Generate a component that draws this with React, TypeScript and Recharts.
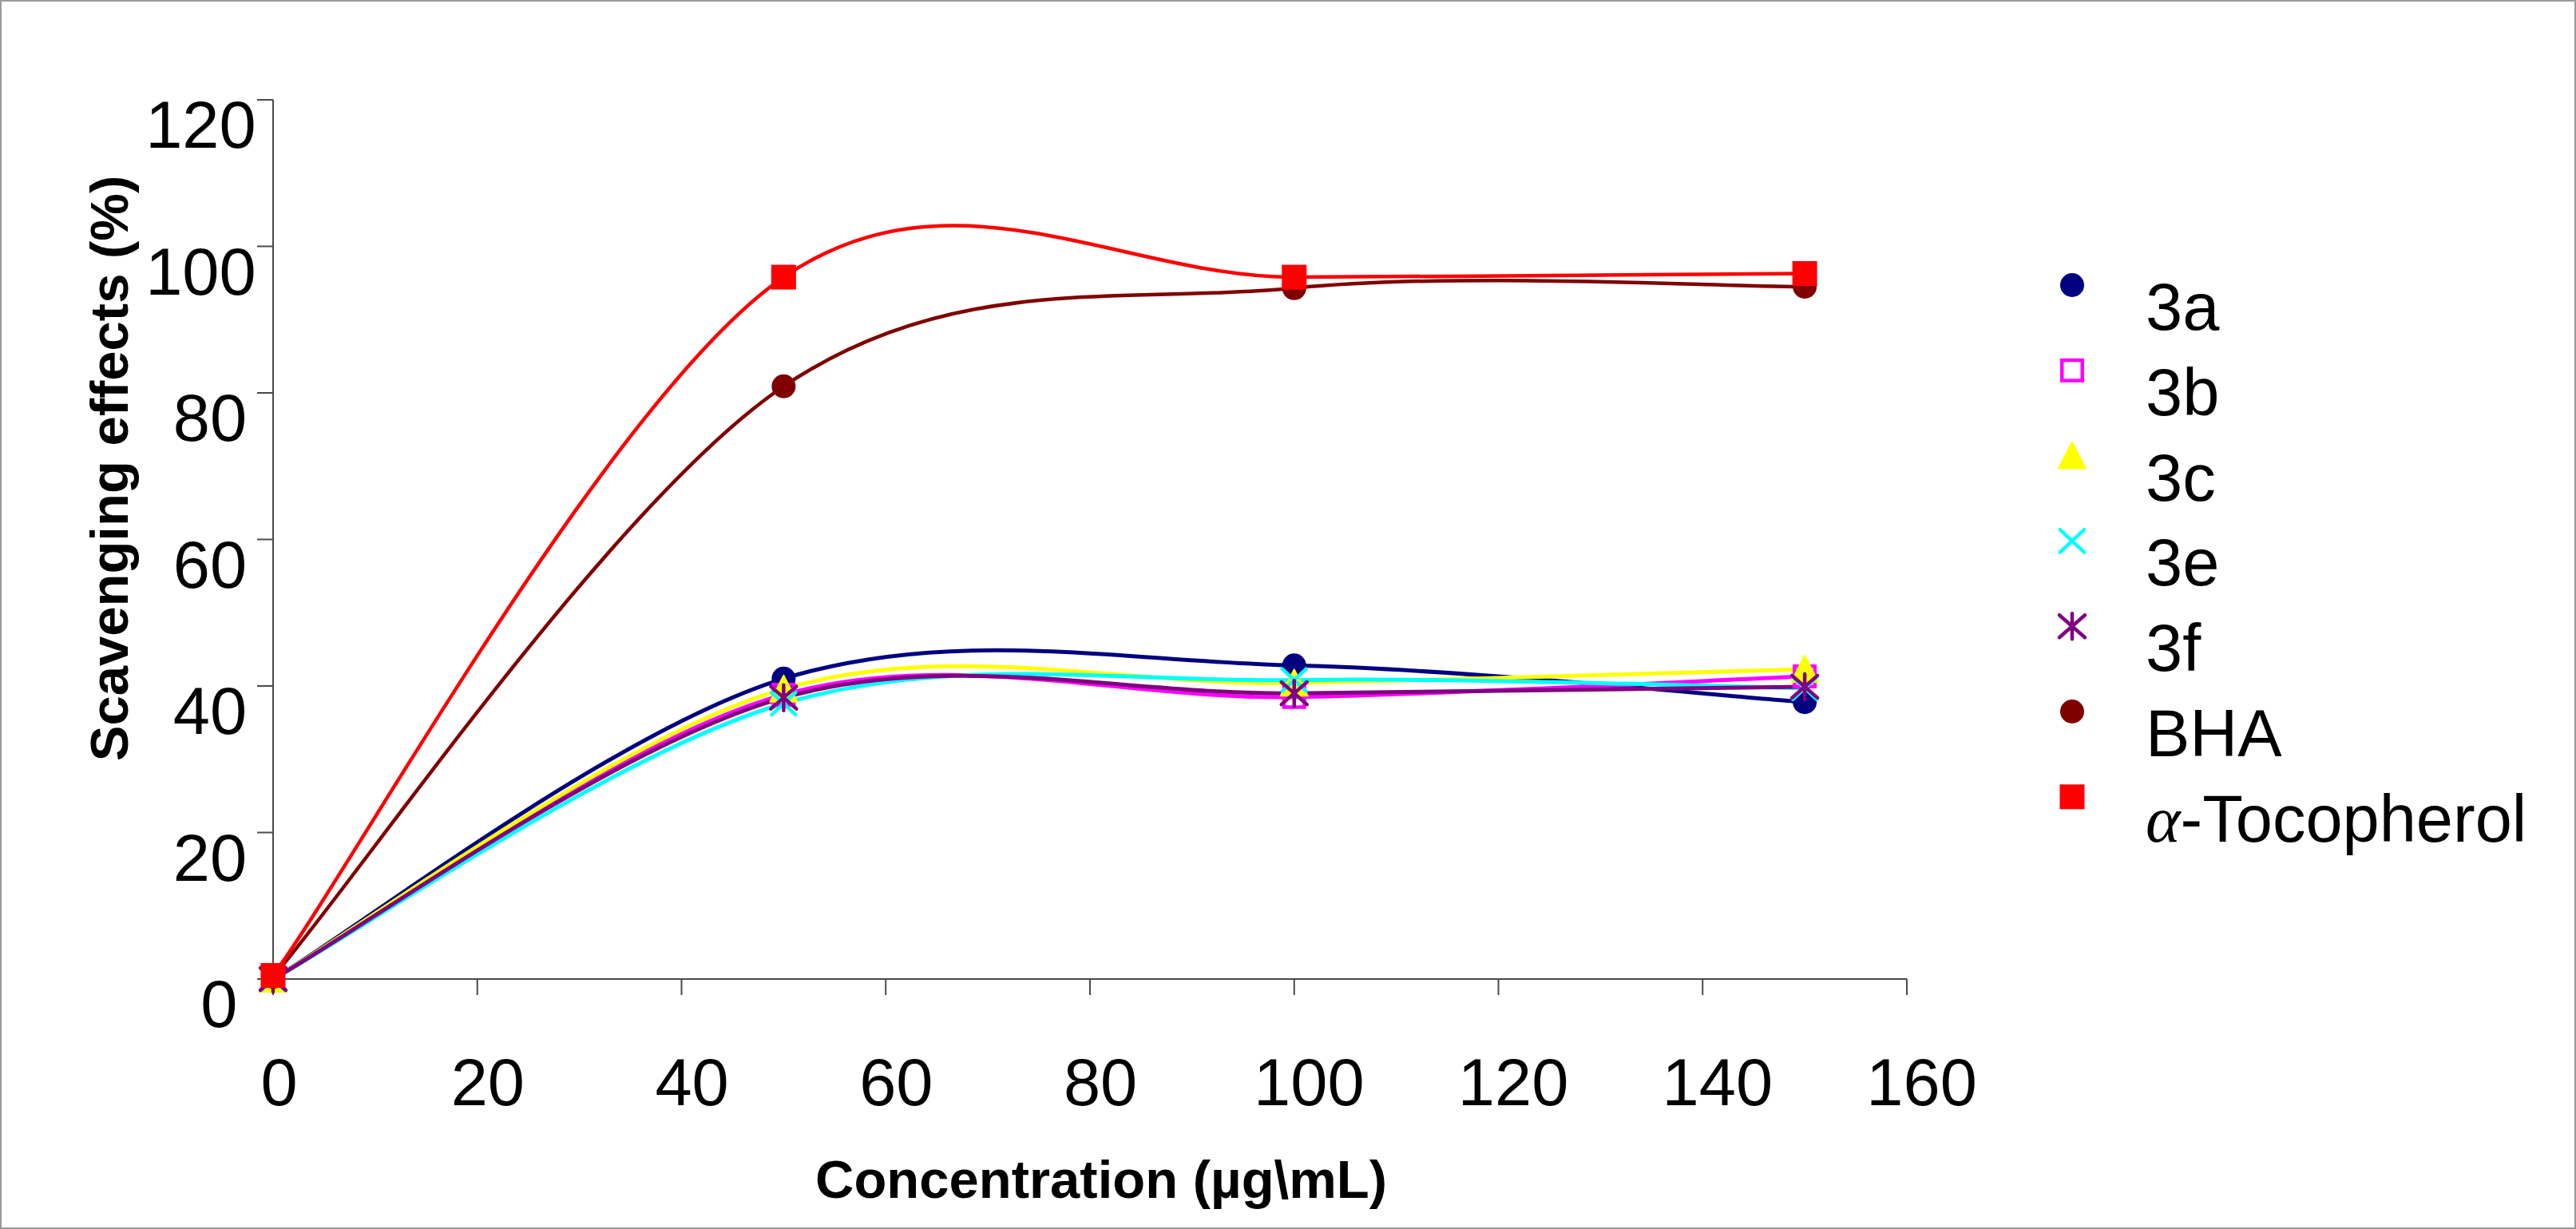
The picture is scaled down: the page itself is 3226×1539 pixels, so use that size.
import React from "react"
import { LineChart, Line, XAxis, YAxis, Legend, Label } from "recharts"

// concentration (µg/mL) and scavenging effect (%) per compound
const concentrations = [0, 50, 100, 150]
const s3a = [0, 41.0, 42.8, 37.8]
const s3b = [0, 38.8, 38.5, 41.3]
const s3c = [0, 39.6, 40.4, 42.3]
const s3e = [0, 37.6, 40.8, 39.7]
const s3f = [0, 38.4, 39.0, 39.9]
const bha = [0.3, 80.9, 94.3, 94.5]
const tocopherol = [0.5, 95.8, 95.8, 96.3]

const seriesKeys = ["s3a", "s3b", "s3c", "s3e", "s3f", "bha", "toco"]
const seriesNames = ["3a", "3b", "3c", "3e", "3f", "BHA", "α-Tocopherol"]
const seriesValues = [s3a, s3b, s3c, s3e, s3f, bha, tocopherol]
const seriesColors = ["#000080", "#FF00FF", "#FFFF00", "#00FFFF", "#800080", "#800000", "#FF0000"]
const seriesShapes = ["circle", "openSquare", "triangle", "cross", "star", "circle", "square"]

const xTicks = [0, 20, 40, 60, 80, 100, 120, 140, 160]
const yTicks = [0, 20, 40, 60, 80, 100, 120]

const chartData = concentrations.map((c, i) => {
  const row: Record<string, number> = { conc: c }
  seriesKeys.forEach((k, s) => {
    row[k] = seriesValues[s][i]
  })
  return row
})

const FONT = '"Liberation Sans", Arial, sans-serif'
const TICK_FS = 83
const TITLE_FS = 67

// spreadsheet-style smoothed line: Catmull-Rom segments with 1/6 tangents
function smoothCurve(context: any) {
  let pts: number[][] = []
  return {
    areaStart() {},
    areaEnd() {},
    lineStart() {
      pts = []
    },
    point(x: number, y: number) {
      pts.push([x, y])
    },
    lineEnd() {
      if (!pts.length) return
      context.moveTo(pts[0][0], pts[0][1])
      for (let i = 0; i < pts.length - 1; i++) {
        const p0 = pts[i - 1] || pts[i]
        const p1 = pts[i]
        const p2 = pts[i + 1]
        const p3 = pts[i + 2] || pts[i + 1]
        context.bezierCurveTo(
          p1[0] + (p2[0] - p0[0]) / 6,
          p1[1] + (p2[1] - p0[1]) / 6,
          p2[0] - (p3[0] - p1[0]) / 6,
          p2[1] - (p3[1] - p1[1]) / 6,
          p2[0],
          p2[1]
        )
      }
    },
  }
}

function Marker({ shape, cx, cy, color }: { shape: string; cx: number; cy: number; color: string }) {
  switch (shape) {
    case "circle":
      return <circle cx={cx} cy={cy} r={15} fill={color} />
    case "openSquare":
      return (
        <rect x={cx - 12.75} y={cy - 12.75} width={25.5} height={25.5} fill="none" stroke={color} strokeWidth={4.5} />
      )
    case "triangle":
      return (
        <polygon
          points={`${cx},${cy - 17} ${cx + 17},${cy + 16} ${cx - 17},${cy + 16}`}
          fill={color}
          stroke={color}
          strokeWidth={2}
          strokeLinejoin="round"
        />
      )
    case "cross":
      return (
        <path
          d={`M${cx - 15},${cy - 14}L${cx + 15},${cy + 14}M${cx - 15},${cy + 14}L${cx + 15},${cy - 14}`}
          stroke={color}
          strokeWidth={4.5}
          strokeLinecap="round"
        />
      )
    case "star":
      return (
        <path
          d={`M${cx - 16},${cy - 14}L${cx + 16},${cy + 14}M${cx - 16},${cy + 14}L${cx + 16},${cy - 14}M${cx},${cy - 16}L${cx},${cy + 16}`}
          stroke={color}
          strokeWidth={4.5}
          strokeLinecap="round"
        />
      )
    default:
      return <rect x={cx - 15.5} y={cy - 15.5} width={31} height={31} fill={color} />
  }
}

function YTick(props: any) {
  const { x, y, payload } = props
  const label = String(payload.value)
  const w = label.length * 0.556 * TICK_FS
  // labels sit a little below their tick, as in the original
  return (
    <text x={x - 34 + 0.25 * w} y={y + 60} textAnchor="end" fontFamily={FONT} fontSize={TICK_FS} fill="#000">
      {label}
    </text>
  )
}

function XTick(props: any) {
  const { x, y, payload } = props
  const label = String(payload.value)
  const w = label.length * 0.556 * TICK_FS
  return (
    <text x={x + 0.12 * w + 2} y={y + 136} textAnchor="middle" fontFamily={FONT} fontSize={TICK_FS} fill="#000">
      {label}
    </text>
  )
}

function LegendBox() {
  return (
    <svg width={680} height={840} style={{ overflow: "visible" }}>
      {seriesNames.map((name, i) => {
        const cy = 57 + i * 106.8
        return (
          <g key={name}>
            <Marker shape={seriesShapes[i]} cx={55} cy={cy} color={seriesColors[i]} />
            <text x={147} y={cy + 56} fontFamily={FONT} fontSize={TICK_FS} fill="#000">
              {name.startsWith("α") ? (
                <>
                  <tspan fontFamily='"Liberation Serif", serif' fontStyle="italic">α</tspan>
                  {name.slice(1)}
                </>
              ) : (
                name
              )}
            </text>
          </g>
        )
      })}
    </svg>
  )
}

export default function App() {
  return (
    <div style={{ position: "absolute", left: 0, top: 0, width: 3226, height: 1539, background: "#fff" }}>
      <LineChart
        width={3226}
        height={1539}
        data={chartData}
        margin={{ top: 125, right: 838, left: 142, bottom: 163 }}
      >
        <XAxis
          dataKey="conc"
          type="number"
          domain={[0, 160]}
          ticks={xTicks}
          height={150}
          tickSize={20}
          tick={<XTick />}
          axisLine={{ stroke: "#4a4a4a", strokeWidth: 2 }}
          tickLine={{ stroke: "#4a4a4a", strokeWidth: 2 }}
        >
          <Label
            content={(p: any) => {
              const vb = p.viewBox
              return (
                <text
                  x={vb.x + vb.width / 2 + 14}
                  y={vb.y + 274}
                  textAnchor="middle"
                  fontFamily={FONT}
                  fontWeight="bold"
                  fontSize={TITLE_FS}
                  fill="#000"
                >
                  Concentration (µg\mL)
                </text>
              )
            }}
          />
        </XAxis>
        <YAxis
          type="number"
          domain={[0, 120]}
          ticks={yTicks}
          width={200}
          tickSize={20}
          tick={<YTick />}
          axisLine={{ stroke: "#4a4a4a", strokeWidth: 2 }}
          tickLine={{ stroke: "#4a4a4a", strokeWidth: 2 }}
        >
          <Label
            content={(p: any) => {
              const vb = p.viewBox
              const tx = vb.x + 18
              const ty = vb.y + vb.height / 2 - 89
              return (
                <text
                  x={tx}
                  y={ty}
                  transform={`rotate(-90, ${tx}, ${ty})`}
                  textAnchor="middle"
                  fontFamily={FONT}
                  fontWeight="bold"
                  fontSize={TITLE_FS}
                  fill="#000"
                >
                  Scavenging effects (%)
                </text>
              )
            }}
          />
        </YAxis>
        <Legend
          layout="vertical"
          align="center"
          verticalAlign="middle"
          wrapperStyle={{ left: 2540, top: 300, width: 680, height: 840 }}
          content={() => <LegendBox />}
        />
        {seriesKeys.map((key, i) => (
          <Line
            key={key}
            dataKey={key}
            name={seriesNames[i]}
            type={smoothCurve as any}
            stroke={seriesColors[i]}
            strokeWidth={i >= 5 ? 4.5 : 5}
            isAnimationActive={false}
            activeDot={false}
            dot={(p: any) => (
              <g key={`${key}-${p.index}`}>
                <Marker shape={seriesShapes[i]} cx={p.cx} cy={p.cy} color={seriesColors[i]} />
              </g>
            )}
          />
        ))}
      </LineChart>
      <div
        style={{
          position: "absolute",
          left: 0,
          top: 0,
          width: 3226,
          height: 1539,
          boxSizing: "border-box",
          border: "2px solid #9a9a9a",
          pointerEvents: "none",
        }}
      />
    </div>
  )
}
